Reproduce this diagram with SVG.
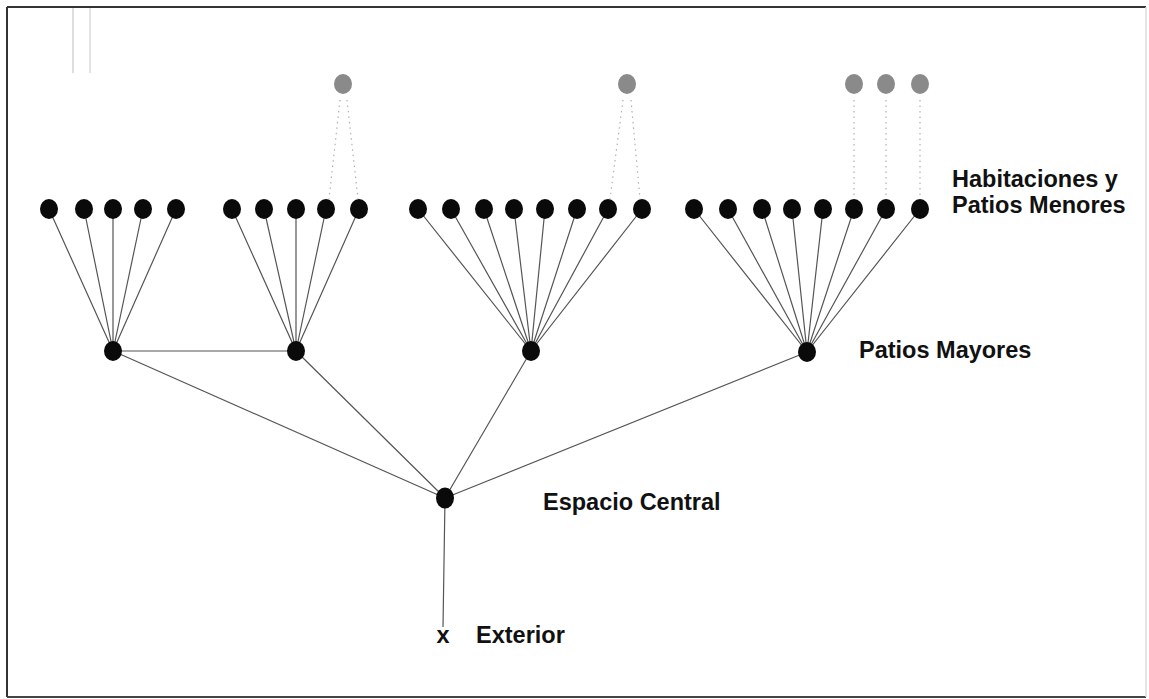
<svg xmlns="http://www.w3.org/2000/svg" width="1149" height="699" viewBox="0 0 1149 699">
<style>
.n{fill:#0a0a0a}
.g{fill:#8a8a8a}
.e{stroke:#555;stroke-width:1.2;fill:none}
.d{stroke:#b0b0b0;stroke-width:1.2;stroke-dasharray:1.5 4;fill:none}
.t{font-family:"Liberation Sans",Arial,sans-serif;font-weight:bold;font-size:23.5px;fill:#111}
</style>
<rect width="1149" height="699" fill="#fff"/>
<g id="frame">
<line x1="7" y1="7" x2="1146" y2="7" stroke="#333" stroke-width="2"/>
<line x1="7" y1="7" x2="7" y2="697" stroke="#333" stroke-width="2"/>
<line x1="7" y1="697" x2="1146" y2="697" stroke="#444" stroke-width="2"/>
<line x1="1146" y1="7" x2="1146" y2="697" stroke="#ddd" stroke-width="1.5"/>
<line x1="73" y1="8" x2="73" y2="73" stroke="#c8c8c8" stroke-width="1.2"/>
<line x1="90" y1="8" x2="90" y2="73" stroke="#d0d0d0" stroke-width="1.2"/>
</g>
<g id="connectors">
<path class="e" d="M49,209L113,351M84,209L113,351M113,209L113,351M143,209L113,351M176,209L113,351"/>
<path class="e" d="M232,209L296,351M264,209L296,351M296,209L296,351M326,209L296,351M359,209L296,351"/>
<path class="e" d="M418,209L531,351M451,209L531,351M484,209L531,351M514,209L531,351M545,209L531,351M577,209L531,351M608,209L531,351M642,209L531,351"/>
<path class="e" d="M694,209L807,352M728,209L807,352M762,209L807,352M792,209L807,352M823,209L807,352M854,209L807,352M886,209L807,352M920,209L807,352"/>
<path class="e" d="M113,351L296,351M113,351L445,498M296,351L445,498M531,351L445,498M807,352L445,498M445,498L443,627"/>
<path class="d" d="M340,100L329,199M347,100L358,199M623,100L610,199M631,100L640,199M854,100L854,199M886,100L886,199M920,100L920,199"/>
</g>
<g id="upper-nodes">
<ellipse class="g" cx="343" cy="84" rx="9" ry="10"/>
<ellipse class="g" cx="627" cy="84" rx="9" ry="10"/>
<ellipse class="g" cx="854" cy="84" rx="9" ry="10"/>
<ellipse class="g" cx="886" cy="84" rx="9" ry="10"/>
<ellipse class="g" cx="920" cy="84" rx="9" ry="10"/>
</g>
<g id="habitaciones">
<ellipse class="n" cx="49" cy="209" rx="9" ry="10"/>
<ellipse class="n" cx="84" cy="209" rx="9" ry="10"/>
<ellipse class="n" cx="113" cy="209" rx="9" ry="10"/>
<ellipse class="n" cx="143" cy="209" rx="9" ry="10"/>
<ellipse class="n" cx="176" cy="209" rx="9" ry="10"/>
<ellipse class="n" cx="232" cy="209" rx="9" ry="10"/>
<ellipse class="n" cx="264" cy="209" rx="9" ry="10"/>
<ellipse class="n" cx="296" cy="209" rx="9" ry="10"/>
<ellipse class="n" cx="326" cy="209" rx="9" ry="10"/>
<ellipse class="n" cx="359" cy="209" rx="9" ry="10"/>
<ellipse class="n" cx="418" cy="209" rx="9" ry="10"/>
<ellipse class="n" cx="451" cy="209" rx="9" ry="10"/>
<ellipse class="n" cx="484" cy="209" rx="9" ry="10"/>
<ellipse class="n" cx="514" cy="209" rx="9" ry="10"/>
<ellipse class="n" cx="545" cy="209" rx="9" ry="10"/>
<ellipse class="n" cx="577" cy="209" rx="9" ry="10"/>
<ellipse class="n" cx="608" cy="209" rx="9" ry="10"/>
<ellipse class="n" cx="642" cy="209" rx="9" ry="10"/>
<ellipse class="n" cx="694" cy="209" rx="9" ry="10"/>
<ellipse class="n" cx="728" cy="209" rx="9" ry="10"/>
<ellipse class="n" cx="762" cy="209" rx="9" ry="10"/>
<ellipse class="n" cx="792" cy="209" rx="9" ry="10"/>
<ellipse class="n" cx="823" cy="209" rx="9" ry="10"/>
<ellipse class="n" cx="854" cy="209" rx="9" ry="10"/>
<ellipse class="n" cx="886" cy="209" rx="9" ry="10"/>
<ellipse class="n" cx="920" cy="209" rx="9" ry="10"/>
<text class="t" x="952" y="187">Habitaciones y</text>
<text class="t" x="952" y="213">Patios Menores</text>
</g>
<g id="patios-mayores">
<ellipse class="n" cx="113" cy="351" rx="9" ry="10"/>
<ellipse class="n" cx="296" cy="351" rx="9" ry="10"/>
<ellipse class="n" cx="531" cy="351" rx="9" ry="10"/>
<ellipse class="n" cx="807" cy="352" rx="9" ry="10"/>
<text class="t" x="859" y="358">Patios Mayores</text>
</g>
<g id="espacio-central">
<ellipse class="n" cx="445" cy="498" rx="9" ry="10.5"/>
<text class="t" x="543" y="510">Espacio Central</text>
</g>
<g id="exterior">
<text class="t" x="443" y="643" text-anchor="middle">x</text>
<text class="t" x="476" y="643">Exterior</text>
</g>
</svg>
